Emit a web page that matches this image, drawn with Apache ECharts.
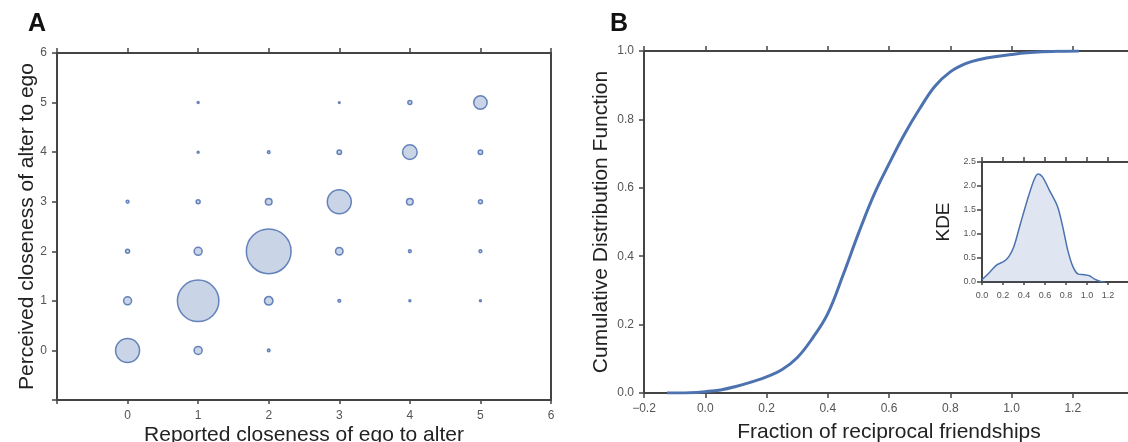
<!DOCTYPE html>
<html><head><meta charset="utf-8">
<script src="https://cdn.jsdelivr.net/npm/echarts@6/dist/echarts.min.js"></script>
<style>html,body{margin:0;padding:0;background:#fff}#c{width:1128px;height:442px}</style>
</head><body><div id="c"></div>
<script>
// ---- Panel A: bubble grid (reported x perceived closeness) ----
const bubbleX     = [0, 1, 2,   0, 1,   2,  3, 4, 5,   0, 1,   2,  3, 4, 5,   0, 1,  2,   3,  4, 5,   1,   2, 3,  4, 5,   1,   3, 4,  5];
const bubbleY     = [0, 0, 0,   1, 1,   1,  1, 1, 1,   2, 2,   2,  2, 2, 2,   3, 3,  3,   3,  3, 3,   4,   4, 4,  4, 4,   5,   5, 5,  5];
const bubbleCount = [144,16,1.7, 16,430,18, 2, 1, 1,   4, 16, 500, 14, 2, 2,   2, 4, 11, 144, 11, 4,   1, 1.7, 5, 53, 5,   1, 0.7, 4, 45];
const panelATicks = [0, 1, 2, 3, 4, 5, 6];

// ---- Panel B: CDF of fraction of reciprocal friendships ----
const cdfX = [-0.125, -0.05, 0.0, 0.05, 0.1, 0.15, 0.2, 0.25, 0.3, 0.35, 0.4, 0.45, 0.5, 0.55, 0.6, 0.65, 0.7, 0.75, 0.8, 0.85, 0.9, 0.95, 1.0, 1.05, 1.1, 1.15, 1.22];
const cdfY = [0.0, 0.001, 0.004, 0.009, 0.019, 0.032, 0.047, 0.068, 0.103, 0.16, 0.232, 0.345, 0.466, 0.578, 0.67, 0.756, 0.831, 0.897, 0.939, 0.963, 0.976, 0.984, 0.990, 0.995, 0.998, 0.999, 1.0];
const panelBXTicks = [-0.2, 0.0, 0.2, 0.4, 0.6, 0.8, 1.0, 1.2];
const panelBYTicks = [0.0, 0.2, 0.4, 0.6, 0.8, 1.0];

// ---- Inset: KDE ----
const kdeX = [0.0, 0.04, 0.08, 0.144, 0.208, 0.256, 0.304, 0.368, 0.432, 0.496, 0.534, 0.576, 0.64, 0.72, 0.768, 0.816, 0.864, 0.912, 0.976, 1.024, 1.072, 1.136, 1.17];
const kdeY = [0.05, 0.13, 0.22, 0.36, 0.43, 0.53, 0.74, 1.23, 1.71, 2.13, 2.25, 2.19, 1.92, 1.57, 1.16, 0.67, 0.33, 0.17, 0.15, 0.13, 0.06, 0.007, 0.0];
const insetXTicks = [0.0, 0.2, 0.4, 0.6, 0.8, 1.0, 1.2];
const insetYTicks = [0.0, 0.5, 1.0, 1.5, 2.0, 2.5];

const FONT = 'Liberation Sans, Arial, sans-serif';
const SPINE = '#444';
const BLUE = '#4C72B0';

function fmt(list, dec) {
  return function (v) {
    const hit = list.some(t => Math.abs(t - v) < 1e-6);
    if (!hit) return '';
    const s = Math.abs(v).toFixed(dec);
    return v < -1e-9 ? '\u2212' + s : s;
  };
}
function line() { return { show: true, onZero: false, lineStyle: { color: SPINE, width: 2 } }; }
function tick(len) { return { show: len > 0, length: len, lineStyle: { color: SPINE, width: 1.5 } }; }

function axesFor(g, xr, yr, o) {
  const xs = [
    { type: 'value', gridIndex: g, position: 'bottom', min: xr[0], max: xr[1], interval: xr[2],
      axisLine: line(), axisTick: tick(o.bt), splitLine: { show: false },
      axisLabel: { formatter: fmt(o.xt, o.dec), color: '#555', fontSize: o.lf, fontFamily: FONT, margin: o.xm },
      name: o.xn, nameLocation: 'middle', nameGap: o.xg, nameMoveOverlap: false,
      nameTextStyle: { fontSize: o.nf, color: '#222', fontFamily: FONT } },
    { type: 'value', gridIndex: g, position: 'top', min: xr[0], max: xr[1], interval: xr[2],
      axisLine: line(), axisTick: tick(5),
      axisLabel: { show: false }, splitLine: { show: false } }
  ];
  const ys = [
    { type: 'value', gridIndex: g, position: 'left', min: yr[0], max: yr[1], interval: yr[2],
      axisLine: line(), axisTick: tick(5),
      splitLine: { show: false },
      axisLabel: { formatter: fmt(o.yt, o.dec), color: '#555', fontSize: o.lf, fontFamily: FONT, margin: o.ym },
      name: o.yn, nameLocation: 'middle', nameGap: o.yg, nameMoveOverlap: false,
      nameTextStyle: { fontSize: o.nf, color: '#222', fontFamily: FONT } },
    { type: 'value', gridIndex: g, position: 'right', min: yr[0], max: yr[1], interval: yr[2],
      axisLine: line(), axisTick: { show: false }, axisLabel: { show: false }, splitLine: { show: false } }
  ];
  return { xs, ys };
}

const A = axesFor(0, [-1, 6, 1], [-1, 6, 1], { xt: panelATicks, yt: panelATicks, dec: 0, lf: 12, nf: 21, xm: 10, ym: 10, bt: 4,
  xn: 'Reported closeness of ego to alter', xg: 25, yn: 'Perceived closeness of alter to ego', yg: 19 });
const B = axesFor(1, [-0.2, 1.4, 0.2], [0, 1, 0.2], { xt: panelBXTicks, yt: panelBYTicks, dec: 1, lf: 12, nf: 21, xm: 10, ym: 10, bt: 5,
  xn: 'Fraction of reciprocal friendships', xg: 29, yn: 'Cumulative Distribution Function', yg: 32 });
const C = axesFor(2, [0, 1.4, 0.2], [0, 2.5, 0.5], { xt: insetXTicks, yt: insetYTicks, dec: 1, lf: 9, nf: 19, xm: 9, ym: 6, bt: 3,
  xn: '', xg: 20, yn: 'KDE', yg: 29 });

const option = {
  animation: false,
  backgroundColor: '#fff',
  title: [
    { text: 'A', left: 23, top: 7, textStyle: { fontSize: 25, fontWeight: 'bold', color: '#111', fontFamily: FONT } },
    { text: 'B', left: 605, top: 7, textStyle: { fontSize: 25, fontWeight: 'bold', color: '#111', fontFamily: FONT } }
  ],
  grid: [
    { left: 57, top: 53, width: 494, height: 347, outerBoundsMode: 'none', containLabel: false },
    { left: 644, top: 51, width: 490, height: 342, outerBoundsMode: 'none', containLabel: false },
    { left: 982, top: 162, width: 147, height: 120, outerBoundsMode: 'none', containLabel: false }
  ],
  xAxis: [...A.xs, ...B.xs, ...C.xs],
  yAxis: [...A.ys, ...B.ys, ...C.ys],
  series: [
    { type: 'scatter', xAxisIndex: 0, yAxisIndex: 0,
      data: bubbleX.map((x, i) => [x, bubbleY[i], bubbleCount[i]]),
      symbolSize: v => 2 * Math.sqrt(v[2]),
      itemStyle: { color: '#bccae0', borderColor: '#4468ad', borderWidth: 1.5 } },
    { type: 'line', xAxisIndex: 2, yAxisIndex: 2, smooth: 0.4, showSymbol: false,
      data: cdfX.map((x, i) => [x, cdfY[i]]),
      lineStyle: { color: BLUE, width: 3 } },
    { type: 'line', xAxisIndex: 4, yAxisIndex: 4, smooth: 0.3, showSymbol: false,
      data: kdeX.map((x, i) => [x, kdeY[i]]),
      lineStyle: { color: BLUE, width: 1.5 },
      areaStyle: { color: 'rgba(76,114,176,0.26)' } }
  ]
};
const chart = echarts.init(document.getElementById('c'), null, { renderer: 'canvas' });
chart.setOption(option);
</script></body></html>
